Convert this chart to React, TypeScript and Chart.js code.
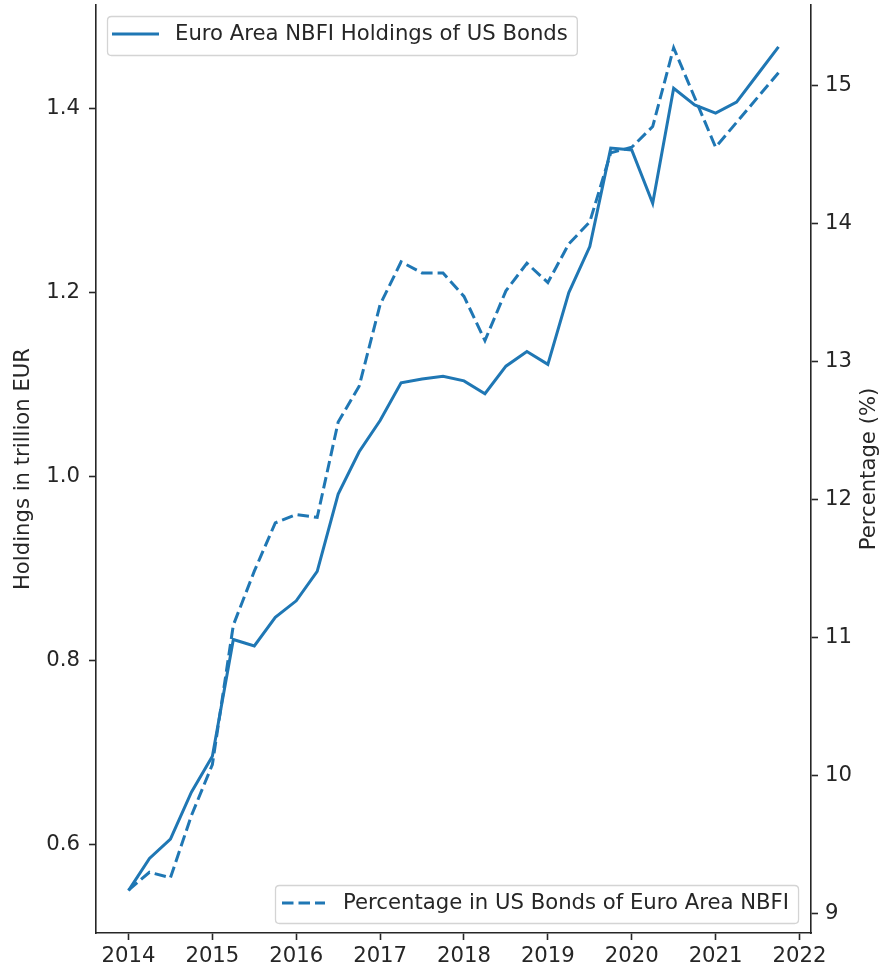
import React, { useEffect, useRef } from "react";
import { Chart, registerables } from "chart.js";

Chart.register(...registerables);

// ---- data ----
const quarters: number[] = [
  2014.0, 2014.25, 2014.5, 2014.75,
  2015.0, 2015.25, 2015.5, 2015.75,
  2016.0, 2016.25, 2016.5, 2016.75,
  2017.0, 2017.25, 2017.5, 2017.75,
  2018.0, 2018.25, 2018.5, 2018.75,
  2019.0, 2019.25, 2019.5, 2019.75,
  2020.0, 2020.25, 2020.5, 2020.75,
  2021.0, 2021.25, 2021.5, 2021.75,
];

const holdings: number[] = [
  0.550, 0.585, 0.606, 0.657,
  0.696, 0.823, 0.816, 0.847,
  0.865, 0.897, 0.981, 1.027,
  1.061, 1.102, 1.106, 1.109,
  1.104, 1.090, 1.120, 1.136,
  1.122, 1.200, 1.250, 1.357,
  1.355, 1.297, 1.422, 1.404,
  1.395, 1.407, 1.437, 1.467,
];

const percentage: number[] = [
  9.17, 9.30, 9.26, 9.71,
  10.08, 11.09, 11.48, 11.83,
  11.89, 11.87, 12.56, 12.82,
  13.41, 13.72, 13.64, 13.64,
  13.47, 13.15, 13.51, 13.71,
  13.57, 13.85, 14.01, 14.51,
  14.55, 14.70, 15.27, 14.91,
  14.55, 14.73, 14.91, 15.09,
];

const xTicks: number[] = [2014, 2015, 2016, 2017, 2018, 2019, 2020, 2021, 2022];
const leftTicks: number[] = [0.6, 0.8, 1.0, 1.2, 1.4];
const rightTicks: number[] = [9, 10, 11, 12, 13, 14, 15];

const holdingsLabel = "Euro Area NBFI Holdings of US Bonds";
const percentageLabel = "Percentage in US Bonds of Euro Area NBFI";
const leftTitle = "Holdings in trillion EUR";
const rightTitle = "Percentage (%)";

// ---- style ----
const FONT = "'DejaVu Sans', sans-serif";
const FONT_SIZE = 21.2;
const COLOR = "#1f77b4";
const INK = "#262626";
const LINE_W = 3.0;
const DASH = [11.5, 5];

function roundRectPath(ctx: CanvasRenderingContext2D, x: number, y: number, w: number, h: number, r: number) {
  ctx.beginPath();
  ctx.moveTo(x + r, y);
  ctx.lineTo(x + w - r, y);
  ctx.quadraticCurveTo(x + w, y, x + w, y + r);
  ctx.lineTo(x + w, y + h - r);
  ctx.quadraticCurveTo(x + w, y + h, x + w - r, y + h);
  ctx.lineTo(x + r, y + h);
  ctx.quadraticCurveTo(x, y + h, x, y + h - r);
  ctx.lineTo(x, y + r);
  ctx.quadraticCurveTo(x, y, x + r, y);
  ctx.closePath();
}

function drawLegend(
  ctx: CanvasRenderingContext2D,
  boxX: number, boxTop: number, boxH: number,
  s1: number, s2: number, textX: number, midY: number,
  label: string, dash: number[]
) {
  ctx.save();
  ctx.font = `${FONT_SIZE}px ${FONT}`;
  const tw = ctx.measureText(label).width;
  const boxW = textX + tw + 9 - boxX;
  roundRectPath(ctx, boxX + 0.5, boxTop + 0.5, boxW, boxH, 4);
  ctx.fillStyle = "rgba(255,255,255,0.8)";
  ctx.fill();
  ctx.strokeStyle = "#d4d4d4";
  ctx.lineWidth = 1.3;
  ctx.stroke();
  ctx.setLineDash(dash);
  ctx.strokeStyle = COLOR;
  ctx.lineWidth = LINE_W;
  ctx.beginPath();
  ctx.moveTo(s1, midY);
  ctx.lineTo(s2, midY);
  ctx.stroke();
  ctx.setLineDash([]);
  ctx.fillStyle = INK;
  ctx.textBaseline = "middle";
  ctx.textAlign = "left";
  ctx.fillText(label, textX, midY);
  ctx.restore();
}

const overlayPlugin = {
  id: "overlay",
  afterDraw(chart: any) {
    const ctx: CanvasRenderingContext2D = chart.ctx;
    const area = chart.chartArea;
    const midY = (area.top + area.bottom) / 2;
    ctx.save();
    ctx.font = `${FONT_SIZE}px ${FONT}`;
    ctx.fillStyle = INK;
    ctx.textAlign = "center";
    ctx.textBaseline = "middle";
    ctx.translate(23, midY);
    ctx.rotate(-Math.PI / 2);
    ctx.fillText(leftTitle, 0, 0);
    ctx.restore();

    ctx.save();
    ctx.font = `${FONT_SIZE}px ${FONT}`;
    ctx.fillStyle = INK;
    ctx.textAlign = "center";
    ctx.textBaseline = "middle";
    ctx.translate(869, midY);
    ctx.rotate(-Math.PI / 2);
    ctx.fillText(rightTitle, 0, 0);
    ctx.restore();

    drawLegend(ctx, 107, 16, 39, 112, 159, 175, 34, holdingsLabel, []);
    drawLegend(ctx, 275, 885, 38, 282, 325, 343, 903, percentageLabel, DASH);
  },
};

export default function App() {
  const ref = useRef<HTMLCanvasElement | null>(null);

  useEffect(() => {
    if (!ref.current) return;
    const tickFont = { family: FONT, size: FONT_SIZE };
    const chart = new Chart(ref.current, {
      type: "line",
      data: {
        datasets: [
          {
            label: holdingsLabel,
            data: quarters.map((q, i) => ({ x: q, y: holdings[i] })),
            borderColor: COLOR,
            backgroundColor: COLOR,
            borderWidth: LINE_W,
            pointRadius: 0,
            tension: 0,
            yAxisID: "y",
          },
          {
            label: percentageLabel,
            data: quarters.map((q, i) => ({ x: q, y: percentage[i] })),
            borderColor: COLOR,
            backgroundColor: COLOR,
            borderWidth: LINE_W,
            borderDash: DASH,
            pointRadius: 0,
            tension: 0,
            yAxisID: "y1",
          },
        ],
      },
      options: {
        responsive: false,
        animation: false,
        devicePixelRatio: 1,
        layout: { padding: { top: 5, left: 0, right: 0, bottom: 0 } },
        plugins: { legend: { display: false }, tooltip: { enabled: false } },
        scales: {
          x: {
            type: "linear",
            bounds: "data",
            min: 2013.6125,
            max: 2022.1375,
            afterBuildTicks: (s: any) => {
              s.ticks = xTicks.map((v) => ({ value: v }));
            },
            afterFit: (s: any) => {
              s.height = 40;
              s.paddingLeft = 0;
              s.paddingRight = 0;
            },
            ticks: {
              callback: (v: any) => String(v),
              font: tickFont,
              color: INK,
              padding: 4,
              maxRotation: 0,
              autoSkip: false,
            },
            grid: { drawOnChartArea: false, drawTicks: true, tickLength: 7, tickColor: INK, tickWidth: 1.6 },
            border: { display: true, color: INK, width: 1.6 },
          },
          y: {
            type: "linear",
            position: "left",
            bounds: "data",
            min: 0.504,
            max: 1.5125,
            afterBuildTicks: (s: any) => {
              s.ticks = leftTicks.map((v) => ({ value: v }));
            },
            afterFit: (s: any) => {
              s.width = 96;
              s.paddingTop = 0;
              s.paddingBottom = 0;
            },
            ticks: {
              callback: (v: any) => Number(v).toFixed(1),
              font: tickFont,
              color: INK,
              padding: 9,
              autoSkip: false,
            },
            grid: { drawOnChartArea: false, drawTicks: true, tickLength: 7, tickColor: INK, tickWidth: 1.6 },
            border: { display: true, color: INK, width: 1.6 },
          },
          y1: {
            type: "linear",
            position: "right",
            bounds: "data",
            min: 8.86,
            max: 15.58,
            afterBuildTicks: (s: any) => {
              s.ticks = rightTicks.map((v) => ({ value: v }));
            },
            afterFit: (s: any) => {
              s.width = 73;
              s.paddingTop = 0;
              s.paddingBottom = 0;
            },
            ticks: {
              callback: (v: any) => String(v),
              font: tickFont,
              color: INK,
              padding: 7,
              autoSkip: false,
            },
            grid: { drawOnChartArea: false, drawTicks: true, tickLength: 7, tickColor: INK, tickWidth: 1.6 },
            border: { display: true, color: INK, width: 1.6 },
          },
        },
      },
      plugins: [overlayPlugin],
    } as any);
    return () => chart.destroy();
  }, []);

  return (
    <div style={{ position: "absolute", left: 0, top: 0, width: 884, height: 973, background: "#fff" }}>
      <canvas ref={ref} width={884} height={973} style={{ display: "block", width: 884, height: 973 }} />
    </div>
  );
}
